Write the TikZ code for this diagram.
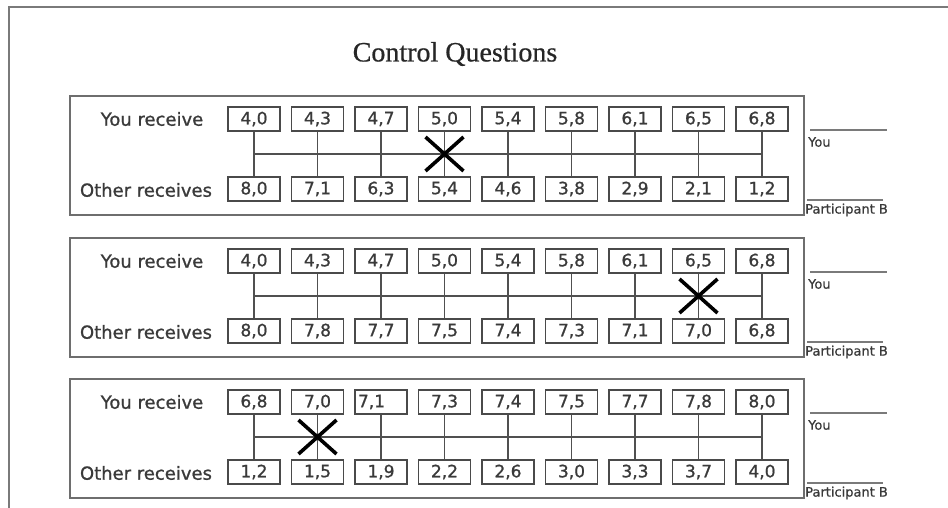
\documentclass[tikz,border=0pt]{standalone}
\usepackage{fontspec}
\setmainfont{Liberation Serif}[RawFeature={embolden=0.6}]
\newfontfamily\vfont{DejaVu Sans}[RawFeature={embolden=1.0}]
\newfontfamily\vfontsm{DejaVu Sans}[RawFeature={embolden=0.6}]
\definecolor{boxgray}{HTML}{4A4A4A}
\definecolor{panelgray}{HTML}{6E6E6E}
\definecolor{linegray}{HTML}{505050}
\definecolor{txtgray}{HTML}{3A3A3A}
\definecolor{framegray}{HTML}{7A7A7A}
\newcommand\cqpanel[5]{%
  \node[panel, anchor=north west] (pan#1) at (69,#2) {};
  \node[lbl] (you#1) at (152,#2+24) {You receive};
  \node[lbl] (oth#1) at (146,#2+95) {Other receives};
  \foreach \v [count=\i] in {#3} {\node[valbox] (p#1t\i) at ({254+63.5*(\i-1)},#2+24) {\v};}
  \foreach \v [count=\i] in {#4} {\node[valbox] (p#1b\i) at ({254+63.5*(\i-1)},#2+94) {\v};}
  \foreach \i in {1,...,9} {\draw[conn] (p#1t\i.south) -- (p#1b\i.north);}
  \coordinate (p#1hl) at (254,#2+59);
  \coordinate (p#1hr) at (762,#2+59);
  \draw[conn] (p#1hl) -- (p#1hr);
  \coordinate (p#1x) at ({254+63.5*(#5-1)},#2+59);
  \draw[cross] (p#1x) ++(-19,-17) -- ++(38,34) (p#1x) ++(19,-17) -- ++(-38,34);
  \coordinate (s#1a) at (810,#2+35);
  \coordinate (s#1b) at (887,#2+35);
  \draw[blank] (s#1a) -- (s#1b);
  \node[small, anchor=west] (sy#1) at (808,#2+47) {You};
  \coordinate (s#1c) at (807,#2+105);
  \coordinate (s#1d) at (883,#2+105);
  \draw[blank] (s#1c) -- (s#1d);
  \node[small, anchor=west] (sp#1) at (805,#2+115) {Participant B};
}
\begin{document}
\begin{tikzpicture}[x=1pt,y=-1pt,
  valbox/.style={draw=boxgray, line width=1.4pt, fill=white, minimum width=52pt, minimum height=24pt, inner sep=0pt, font=\vfont\fontsize{17}{17}\selectfont, text=txtgray},
  panel/.style={draw=panelgray, line width=1.6pt, fill=white, minimum width=734pt, minimum height=119pt, inner sep=0pt},
  conn/.style={draw=linegray, line width=1.4pt},
  cross/.style={draw=black, line width=3.6pt},
  lbl/.style={font=\vfont\fontsize{18}{18}\selectfont, text=txtgray, inner sep=0pt},
  small/.style={font=\vfontsm\fontsize{13}{13}\selectfont, text=txtgray, inner sep=0pt},
  blank/.style={draw=framegray, line width=1.6pt}]
\useasboundingbox (0,0) rectangle (948,508);
\fill[white] (0,0) rectangle (948,508);
\coordinate (fa) at (9,508);
\coordinate (fb) at (9,7);
\coordinate (fc) at (948,7);
\draw[framegray, line width=2pt] (fa) -- (fb) -- (fc);
\node[font=\fontsize{28}{28}\selectfont, text=black!85] (title) at (455,54) {Control Questions};
\cqpanel{1}{95}{{4,0},{4,3},{4,7},{5,0},{5,4},{5,8},{6,1},{6,5},{6,8}}{{8,0},{7,1},{6,3},{5,4},{4,6},{3,8},{2,9},{2,1},{1,2}}{4}
\cqpanel{2}{237}{{4,0},{4,3},{4,7},{5,0},{5,4},{5,8},{6,1},{6,5},{6,8}}{{8,0},{7,8},{7,7},{7,5},{7,4},{7,3},{7,1},{7,0},{6,8}}{8}
\cqpanel{3}{378}{{6,8},{7,0},{\makebox[46pt][l]{7,1}},{7,3},{7,4},{7,5},{7,7},{7,8},{8,0}}{{1,2},{1,5},{1,9},{2,2},{2,6},{3,0},{3,3},{3,7},{4,0}}{2}
\end{tikzpicture}
\end{document}
